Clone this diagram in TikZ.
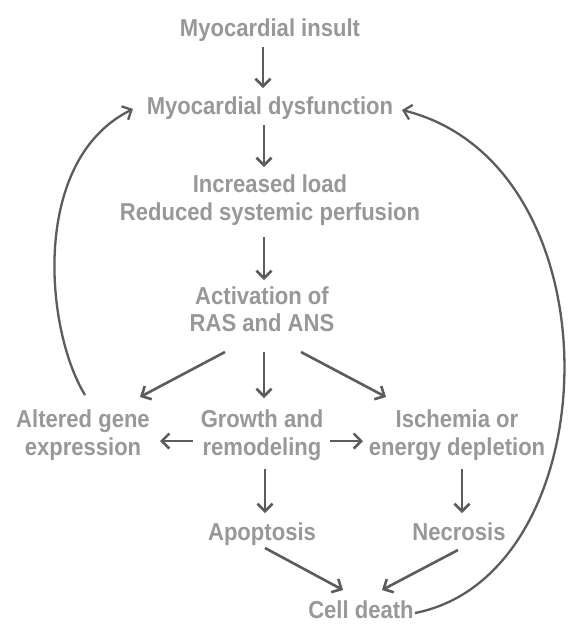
\documentclass[tikz,border=0pt]{standalone}
\usepackage{fontspec}
\setmainfont{Liberation Sans}
\newfontfamily\lblfont{Liberation Sans}[FakeStretch=0.9]
\usetikzlibrary{arrows.meta,calc}
\definecolor{txtgray}{RGB}{152,152,152}
\definecolor{arrgray}{RGB}{92,92,92}
\begin{document}
\begin{tikzpicture}[x=1pt,y=-1pt,
  lbl/.style={font=\lblfont\bfseries\fontsize{24.5}{27.5}\selectfont, text=txtgray, align=center, inner sep=2pt},
  arr/.style={draw=arrgray, line width=2.6pt, -{Straight Barb[length=7.5pt,width=15pt]}},
  curv/.style={draw=arrgray, line width=2.3pt, -{Straight Barb[length=7.5pt,width=15pt]}}]
\useasboundingbox (0,0) rectangle (574,627);
\fill[white] (0,0) rectangle (574,627);
% nodes
\node[lbl, anchor=base] (insult) at (270,36) {Myocardial insult};
\node[lbl, anchor=base] (dys) at (270,114) {Myocardial dysfunction};
\node[lbl] (load) at (270,200) {Increased load\\Reduced systemic perfusion};
\node[lbl] (act) at (262,309) {Activation of\\RAS and ANS};
\node[lbl] (alt) at (83,435) {Altered gene\\expression};
\node[lbl] (grow) at (262,435) {Growth and\\remodeling};
\node[lbl] (isch) at (457,435) {Ischemia or\\energy depletion};
\node[lbl, anchor=base] (apop) at (262,540) {Apoptosis};
\node[lbl, anchor=base] (nec) at (459,540) {Necrosis};
\node[lbl, anchor=base] (cell) at (361,618) {Cell death};
% straight connectors
\draw[arr] ($(insult.base)+(-7,11)$) -- ($(dys.base)+(-7,-26)$);
\draw[arr] ($(dys.base)+(-6,11)$) -- ($(load.center)+(-6,-33)$);
\draw[arr] ($(load.center)+(-6,37)$) -- ($(act.center)+(2,-29)$);
\draw[arr] ($(act.center)+(2,43)$) -- ($(grow.center)+(2,-37)$);
\draw[arr] ($(act.center)+(-37,43)$) -- ($(alt.center)+(57,-38)$);
\draw[arr] ($(act.center)+(39,43)$) -- ($(isch.center)+(-71,-38)$);
\draw[arr] ($(grow.center)+(-69,6)$) -- ($(alt.center)+(77,6)$);
\draw[arr] ($(grow.center)+(68,6)$) -- ($(isch.center)+(-94,6)$);
\draw[arr] ($(grow.center)+(3,34)$) -- ($(apop.base)+(3,-27)$);
\draw[arr] ($(isch.center)+(5,34)$) -- ($(nec.base)+(3,-27)$);
\draw[arr] ($(apop.base)+(3,8)$) -- ($(cell.base)+(-18,-28)$);
\draw[arr] ($(nec.base)+(-1,10)$) -- ($(cell.base)+(21,-28)$);
% feedback curves
\draw[curv] ($(alt.center)+(2,-40)$) .. controls +(-40,-65) and +(-103,51) .. ($(dys.base)+(-137,-5)$);
\draw[curv] ($(cell.base)+(54,-5)$) .. controls +(195,-38) and +(220,55) .. ($(dys.base)+(132,-4)$);
\end{tikzpicture}
\end{document}
